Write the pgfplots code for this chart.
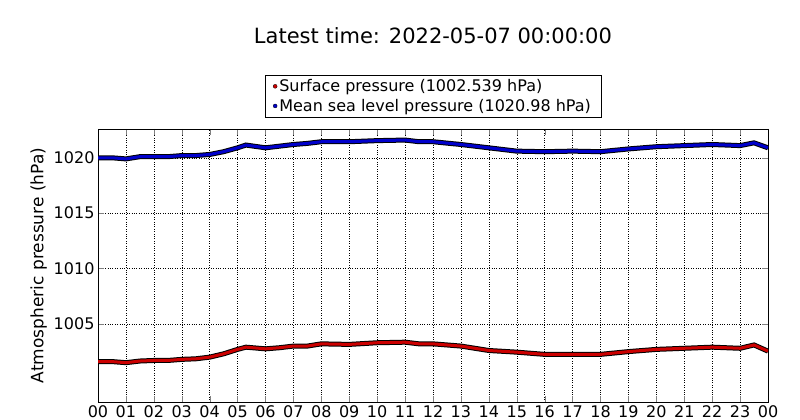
\documentclass[border=0pt]{standalone}
\usepackage{pgfplots}
\pgfplotsset{compat=1.18}
\usepackage{fontspec}
\setmainfont{DejaVu Sans}
\begin{document}
\begin{tikzpicture}[x=1pt,y=1pt]
\useasboundingbox (0pt,0pt) rectangle (800pt,420pt);
\pgfplotstableread{
h blue red
0 1020.0 1001.6
0.5 1020.0 1001.6
1 1019.9 1001.5
1.5 1020.1 1001.65
2 1020.1 1001.7
2.5 1020.1 1001.7
3 1020.2 1001.8
3.5 1020.2 1001.85
4 1020.3 1002.0
4.5 1020.55 1002.3
5 1020.9 1002.7
5.3 1021.15 1002.9
6 1020.9 1002.75
6.5 1021.05 1002.85
7 1021.2 1003.0
7.5 1021.3 1003.0
8 1021.45 1003.2
9 1021.45 1003.15
10 1021.55 1003.3
11 1021.6 1003.35
11.5 1021.45 1003.2
12 1021.45 1003.2
13 1021.2 1003.0
14 1020.9 1002.6
15 1020.6 1002.45
16 1020.55 1002.25
17 1020.6 1002.25
18 1020.55 1002.25
19 1020.8 1002.5
20 1021.0 1002.7
21 1021.1 1002.8
22 1021.2 1002.9
23 1021.1 1002.8
23.5 1021.35 1003.1
24 1020.9 1002.54
}\data
\begin{axis}[at={(98pt,18pt)},anchor=south west,scale only axis,width=670pt,height=273pt,
 xmin=0,xmax=24,ymin=997.95,ymax=1022.6,
 xtick={0,...,24},xticklabels={00,01,02,03,04,05,06,07,08,09,10,11,12,13,14,15,16,17,18,19,20,21,22,23,00},
 ytick={1005,1010,1015,1020},
 yticklabel style={/pgf/number format/.cd,1000 sep={},fixed},
 /pgf/number format/assume math mode=true,
 tick label style={font=\fontsize{16}{18}\selectfont},
 tick align=inside,major tick length=6,
 grid=major,grid style={black,dotted},
 ylabel={Atmospheric pressure (hPa)},
 ylabel style={font=\fontsize{17}{19}\selectfont},
 title={Latest time: 2022-05-07 00:00:00},
 title style={font=\fontsize{21}{24}\selectfont,at={(0.5,1)},yshift=76pt,anchor=south},
 legend style={at={(0.5,1)},anchor=south,yshift=12pt,draw=black,font=\fontsize{16}{19}\selectfont,cells={anchor=west},row sep=2pt,inner xsep=8pt},
 legend cell align=left,
 legend image code/.code={\fill[#1,draw=black,line width=0.3pt] (0.3cm,0cm) circle (2pt);},
]
\addplot[black,line width=5pt,forget plot] table[x=h,y=red]{\data};
\addplot[red!80!black,line width=3pt] table[x=h,y=red]{\data};
\addlegendentry{Surface pressure (1002.539 hPa)}
\addplot[black,line width=5pt,forget plot] table[x=h,y=blue]{\data};
\addplot[blue!80!black,line width=3pt] table[x=h,y=blue]{\data};
\addlegendentry{Mean sea level pressure (1020.98 hPa)}
\end{axis}
\end{tikzpicture}
\end{document}
